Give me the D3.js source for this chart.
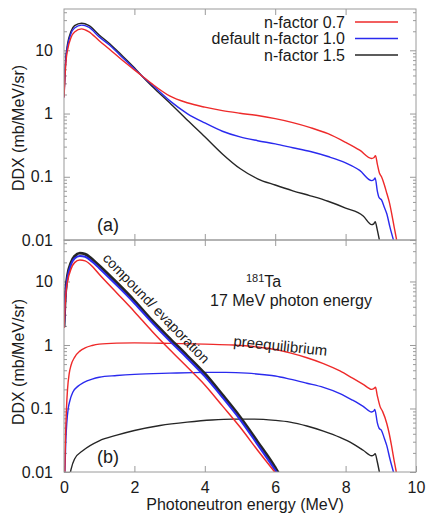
<!DOCTYPE html>
<html>
<head>
<meta charset="utf-8">
<script src="https://cdn.jsdelivr.net/npm/d3@7"></script>
<style>
  body { margin: 0; background: #fff; }
  text { font-family: "Liberation Sans", Arial, sans-serif; fill: #1a1a1a; }
</style>
</head>
<body>
<div id="chart"></div>
<script>
// ---- data ----
var seriesNames = ['n-factor 0.7', 'default n-factor 1.0', 'n-factor 1.5'];
var seriesColors = ['#ee2a2a', '#2a2aee', '#262626'];
var xTicks = [0, 2, 4, 6, 8, 10];
var yMajor = [0.01, 0.1, 1, 10];
var yTickLabels = ['0.01', '0.1', '1', '10'];

// panel (a): total spectra
var topRed = [[0,1.8],[0.03,4],[0.06,7],[0.1,10],[0.2,16],[0.3,19.5],[0.5,21.8],[0.7,19.8],[1.0,14.2],[1.3,10.3],[1.6,7.4],[2.0,4.9],[2.2,4.0],[2.5,2.95],[3.0,1.9],[3.5,1.48],[4.0,1.26],[4.5,1.11],[5.0,1.01],[5.5,0.93],[6.0,0.83],[6.5,0.72],[7.0,0.6],[7.5,0.48],[8.0,0.35],[8.4,0.263],[8.74,0.195],[8.8,0.2],[8.85,0.215],[8.9,0.16],[8.96,0.115],[9.02,0.1],[9.1,0.075],[9.17,0.055],[9.24,0.04],[9.31,0.026],[9.38,0.016],[9.45,0.01]];
var topBlue = [[0,1.8],[0.03,4.5],[0.06,8],[0.1,11.5],[0.2,18.5],[0.3,22.5],[0.5,25],[0.7,23.2],[1.0,16.3],[1.3,12.0],[1.6,8.3],[2.0,5.1],[2.2,4.0],[2.5,2.85],[3.0,1.6],[3.5,1.0],[4.0,0.71],[4.5,0.525],[5.0,0.427],[5.5,0.372],[6.0,0.331],[6.5,0.288],[7.0,0.251],[7.5,0.209],[8.0,0.166],[8.4,0.126],[8.74,0.087],[8.8,0.09],[8.84,0.096],[8.9,0.06],[8.95,0.047],[9.02,0.043],[9.1,0.033],[9.17,0.026],[9.26,0.016],[9.36,0.01]];
var topBlack = [[0,1.9],[0.03,5],[0.06,8.5],[0.1,12.5],[0.2,20],[0.3,24.5],[0.5,26.8],[0.7,24.8],[1.0,17.5],[1.3,12.7],[1.6,8.8],[2.0,5.3],[2.2,4.0],[2.5,2.7],[3.0,1.48],[3.5,0.79],[4.0,0.43],[4.5,0.23],[5.0,0.135],[5.5,0.093],[6.0,0.074],[6.5,0.06],[7.0,0.05],[7.5,0.041],[8.0,0.032],[8.5,0.024],[8.74,0.0175],[8.8,0.018],[8.84,0.0195],[8.9,0.0145],[8.96,0.01]];

// panel (b): compound/evaporation part
var botCompRed = [[0,1.85],[0.03,4],[0.06,7],[0.1,10],[0.2,15.8],[0.3,19.8],[0.45,21.8],[0.6,21.1],[0.8,17.4],[1.0,13.0],[1.5,6.6],[2.0,3.35],[2.5,1.65],[3.0,0.85],[3.5,0.45],[4.0,0.235],[4.5,0.11],[5.0,0.051],[5.5,0.022],[6.0,0.0098]];
var botCompBlue = [[0,1.9],[0.03,4.6],[0.06,7.8],[0.1,11.5],[0.2,18.5],[0.3,23],[0.45,25.3],[0.6,24.5],[0.8,20.5],[1.0,16.2],[1.5,8.7],[2.0,4.55],[2.5,2.25],[3.0,1.16],[3.5,0.62],[4.0,0.32],[4.5,0.15],[5.0,0.067],[5.5,0.027],[6.0,0.0107],[6.08,0.0092]];
var botCompBlack = [[0,1.9],[0.03,5],[0.06,8.5],[0.1,12.5],[0.2,20],[0.3,25],[0.45,27.9],[0.6,27],[0.8,22.5],[1.0,17.8],[1.5,9.6],[2.0,5.0],[2.5,2.45],[3.0,1.28],[3.5,0.68],[4.0,0.355],[4.5,0.165],[5.0,0.074],[5.5,0.03],[6.0,0.0118],[6.1,0.0095]];

// panel (b): preequilibrium part
var botPreRed = [[0.02,0.008],[0.04,0.03],[0.07,0.1],[0.1,0.2],[0.15,0.36],[0.2,0.48],[0.3,0.64],[0.45,0.8],[0.6,0.9],[0.8,0.98],[1.0,1.03],[1.5,1.07],[2.0,1.08],[3.0,1.06],[4.0,1.03],[4.8,1.0],[5.5,0.93],[6.0,0.85],[6.42,0.75],[6.9,0.63],[7.37,0.51],[7.84,0.39],[8.2,0.3],[8.5,0.24],[8.74,0.2],[8.8,0.205],[8.85,0.216],[8.9,0.16],[8.98,0.107],[9.05,0.09],[9.17,0.058],[9.24,0.04],[9.31,0.025],[9.38,0.015],[9.44,0.01]];
var botPreBlue = [[0.02,0.008],[0.05,0.03],[0.08,0.06],[0.12,0.1],[0.17,0.135],[0.25,0.18],[0.4,0.225],[0.55,0.255],[0.8,0.29],[1.0,0.31],[1.5,0.33],[2.0,0.345],[3.0,0.36],[4.0,0.37],[4.6,0.37],[5.2,0.36],[5.7,0.34],[6.0,0.325],[6.42,0.29],[6.9,0.25],[7.37,0.215],[7.84,0.172],[8.2,0.135],[8.5,0.108],[8.74,0.088],[8.8,0.091],[8.83,0.097],[8.9,0.06],[8.95,0.049],[9.02,0.045],[9.1,0.034],[9.17,0.026],[9.26,0.016],[9.36,0.01]];
var botPreBlack = [[0.15,0.008],[0.2,0.011],[0.3,0.016],[0.55,0.022],[1.0,0.031],[1.5,0.038],[2.0,0.045],[2.73,0.054],[3.5,0.061],[4.2,0.066],[4.8,0.068],[5.4,0.068],[6.0,0.065],[6.42,0.061],[6.9,0.053],[7.37,0.044],[7.84,0.035],[8.2,0.028],[8.5,0.022],[8.74,0.018],[8.8,0.0185],[8.84,0.0195],[8.9,0.0145],[8.96,0.01]];

// ---- layout ----
var svgWidth = 426, svgHeight = 517,
    left = 64, right = 416,
    frameColor = '#9a9a9a';

var svg = d3.select('#chart').append('svg')
    .attr('width', svgWidth)
    .attr('height', svgHeight);

var x = d3.scaleLinear().domain([0, 10]).range([left, right]);

var yMinor = [];
yMajor.forEach(function (d) {
    for (var k = 2; k <= 9; k++) {
        if (d * k <= 45) yMinor.push(d * k);
    }
});

var panels = [
    { id: 'a', top: 9, bottom: 240, label: '(a)', labelY: 231, titleY: 128,
      lines: [
        { data: topBlack, color: seriesColors[2], w: 1.4 },
        { data: topBlue, color: seriesColors[1], w: 1.4 },
        { data: topRed, color: seriesColors[0], w: 1.4 }
      ] },
    { id: 'b', top: 240, bottom: 472, label: '(b)', labelY: 463, titleY: 362,
      lines: [
        { data: botPreBlack, color: seriesColors[2], w: 1.4 },
        { data: botPreBlue, color: seriesColors[1], w: 1.4 },
        { data: botPreRed, color: seriesColors[0], w: 1.4 },
        { data: botCompBlack, color: seriesColors[2], w: 2.8 },
        { data: botCompBlue, color: seriesColors[1], w: 2 },
        { data: botCompRed, color: seriesColors[0], w: 1.5 }
      ] }
];

panels.forEach(function (p, i) {
    var y = d3.scaleLog().domain([0.01, 45]).range([p.bottom, p.top]);
    var g = svg.append('g');

    g.append('clipPath').attr('id', 'clip-' + p.id)
        .append('rect')
        .attr('x', left).attr('y', p.top)
        .attr('width', right - left).attr('height', p.bottom - p.top);

    addAxes(g, x, y, p, i === 1);

    var line = d3.line()
        .x(function (d) { return x(d[0]); })
        .y(function (d) { return y(d[1]); })
        .curve(d3.curveMonotoneX);

    p.lines.forEach(function (s) {
        g.append('path')
            .datum(s.data)
            .attr('d', line)
            .attr('fill', 'none')
            .attr('stroke', s.color)
            .attr('stroke-width', s.w)
            .attr('stroke-linejoin', 'round')
            .attr('clip-path', 'url(#clip-' + p.id + ')');
    });

    g.append('rect')
        .attr('x', left).attr('y', p.top)
        .attr('width', right - left).attr('height', p.bottom - p.top)
        .attr('fill', 'none').attr('stroke', frameColor).attr('stroke-width', 1);

    g.append('text')
        .attr('x', 97).attr('y', p.labelY)
        .style('font-size', '18px')
        .text(p.label);

    g.append('text')
        .attr('transform', 'translate(24,' + p.titleY + ') rotate(-90)')
        .attr('text-anchor', 'middle')
        .style('font-size', '16px')
        .text('DDX (mb/MeV/sr)');
});

function addAxes(g, x, y, p, showX) {
    var fmt = function (d) { return yTickLabels[yMajor.indexOf(d)]; };
    g.append('g').attr('class', 'axis').attr('transform', 'translate(' + left + ',0)')
        .call(d3.axisLeft(y).tickValues(yMajor).tickSize(-6).tickPadding(11).tickFormat(fmt));
    g.append('g').attr('class', 'axis').attr('transform', 'translate(' + left + ',0)')
        .call(d3.axisLeft(y).tickValues(yMinor).tickSize(-3).tickFormat(''));
    g.append('g').attr('class', 'axis').attr('transform', 'translate(' + right + ',0)')
        .call(d3.axisRight(y).tickValues(yMajor).tickSize(-6).tickFormat(''));
    g.append('g').attr('class', 'axis').attr('transform', 'translate(' + right + ',0)')
        .call(d3.axisRight(y).tickValues(yMinor).tickSize(-3).tickFormat(''));
    g.append('g').attr('class', 'axis').attr('transform', 'translate(0,' + p.top + ')')
        .call(d3.axisTop(x).tickValues(xTicks.slice(1, -1)).tickSize(-6).tickFormat(''));
    g.append('g').attr('class', 'axis').attr('transform', 'translate(0,' + p.bottom + ')')
        .call(d3.axisBottom(x).tickValues(showX ? xTicks : xTicks.slice(1, -1)).tickSize(-6).tickPadding(10)
            .tickFormat(showX ? d3.format('d') : ''));

    g.selectAll('.axis .domain').remove();
    g.selectAll('.axis line').attr('stroke', frameColor);
    g.selectAll('.axis text')
        .attr('fill', '#1a1a1a')
        .style('font-size', '16px')
        .style('font-family', '"Liberation Sans", Arial, sans-serif');
}

// x title
svg.append('text')
    .attr('x', 245).attr('y', 510)
    .attr('text-anchor', 'middle')
    .style('font-size', '16px')
    .text('Photoneutron energy (MeV)');

// legend
var legend = svg.append('g');
seriesNames.forEach(function (name, i) {
    var cy = 22 + i * 16.5;
    legend.append('text')
        .attr('x', 345).attr('y', cy + 5.5)
        .attr('text-anchor', 'end')
        .style('font-size', '16px')
        .text(name);
    legend.append('line')
        .attr('x1', 355).attr('x2', 398)
        .attr('y1', cy).attr('y2', cy)
        .attr('stroke', seriesColors[i])
        .attr('stroke-width', 1.4);
});

// annotations in panel (b)
var ta = svg.append('text').attr('x', 246).attr('y', 287).style('font-size', '16px');
ta.append('tspan').attr('dy', -5).style('font-size', '11px').text('181');
ta.append('tspan').attr('dy', 5).text('Ta');

svg.append('text')
    .attr('x', 291).attr('y', 306)
    .attr('text-anchor', 'middle')
    .style('font-size', '16px')
    .text('17 MeV photon energy');

svg.append('text')
    .attr('transform', 'translate(102,259) rotate(46)')
    .style('font-size', '14px')
    .text('compound/ evaporation');

svg.append('text')
    .attr('transform', 'translate(233,346) rotate(6)')
    .style('font-size', '15px')
    .text('preequilibrium');
</script>
</body>
</html>
